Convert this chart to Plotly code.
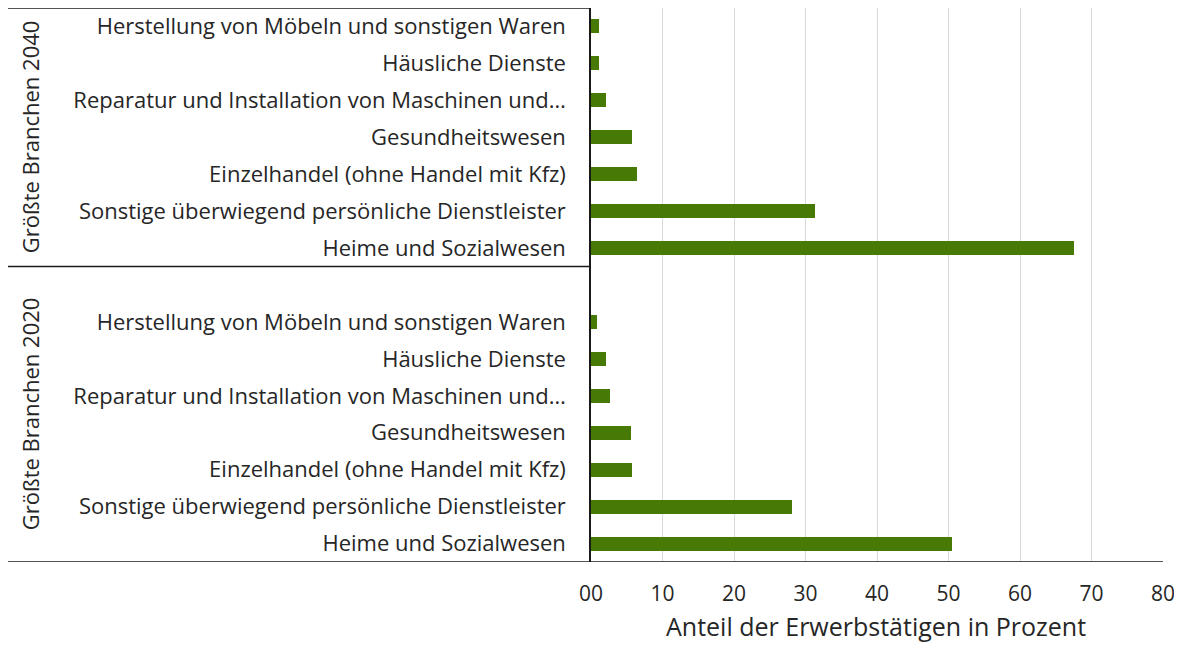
import plotly.graph_objects as go

branches = [
    "Herstellung von Möbeln und sonstigen Waren",
    "Häusliche Dienste",
    "Reparatur und Installation von Maschinen und…",
    "Gesundheitswesen",
    "Einzelhandel (ohne Handel mit Kfz)",
    "Sonstige überwiegend persönliche Dienstleister",
    "Heime und Sozialwesen",
]
values_2040 = [1.1, 1.1, 2.1, 5.8, 6.4, 31.3, 67.5]
values_2020 = [0.8, 2.1, 2.6, 5.6, 5.8, 28.1, 50.5]
group_labels = ["Größte Branchen 2040", "Größte Branchen 2020"]
x_ticks = [0, 10, 20, 30, 40, 50, 60, 70, 80]
x_ticktext = ["00", "10", "20", "30", "40", "50", "60", "70", "80"]
x_title = "Anteil der Erwerbstätigen in Prozent"

n = len(branches)
pos_2040 = list(range(n))
pos_2020 = [n + 1 + i for i in range(n)]
positions = pos_2040 + pos_2020
values = values_2040 + values_2020
labels = branches + branches

GREEN = "#467A04"
TEXT = "#262626"
FONT = "Open Sans"

fig = go.Figure(go.Bar(
    x=values, y=positions, orientation="h",
    marker=dict(color=GREEN, line=dict(width=0)),
    width=0.38, hoverinfo="x+text", text=labels, textposition="none",
))

# page body has an 8px margin, so figure coordinates = screen - 8
W, H = 1172, 634
L, T = 583, 0
R = W - 1155
B = H - 554
pw = W - L - R
ph = H - T - B
x_left_paper = (0 - L) / pw

fig.update_layout(
    width=W, height=H,
    margin=dict(l=L, r=R, t=T, b=B),
    paper_bgcolor="white", plot_bgcolor="white",
    showlegend=False,
    font=dict(family=FONT, color=TEXT, size=22),
    xaxis=dict(
        range=[0, 80], tickvals=x_ticks, ticktext=x_ticktext,
        showgrid=True, gridcolor="#d9d9d9", gridwidth=1,
        zeroline=False, showline=False, ticks="",
        ticklabelstandoff=17,
        tickfont=dict(size=21, family=FONT, color=TEXT),
        automargin=False,
    ),
    yaxis=dict(
        range=[2 * n + 0.5, -0.5], tickvals=positions, ticktext=labels,
        showgrid=False, zeroline=False, showline=True, linecolor="#1a1a1a", linewidth=1.5,
        ticks="", ticklabelstandoff=19,
        tickfont=dict(size=22, family=FONT, color=TEXT),
        automargin=False,
    ),
    bargap=0,
)

# x-axis title placed as annotation below the tick labels
fig.add_annotation(
    text=x_title, xref="paper", yref="paper", x=0.498, y=(554 - 618) / ph,
    showarrow=False, xanchor="center", yanchor="middle",
    font=dict(size=25, family=FONT, color=TEXT),
)

line_style = dict(color="#1a1a1a", width=1.5)
# top border
fig.add_shape(type="line", xref="paper", yref="y", x0=x_left_paper, x1=0, y0=-0.5, y1=-0.5, line=line_style)
# group separator
fig.add_shape(type="line", xref="paper", yref="y", x0=x_left_paper, x1=0, y0=n - 0.5, y1=n - 0.5, line=line_style)
# bottom border
fig.add_shape(type="line", xref="paper", yref="y", x0=x_left_paper, x1=1, y0=2 * n + 0.5, y1=2 * n + 0.5, line=line_style)

group_x = (22 - L) / pw
for lab, ymid in zip(group_labels, [(n - 1) / 2, (n + 2 * n) / 2]):
    fig.add_annotation(
        text=lab, xref="paper", yref="y", x=group_x, y=ymid,
        textangle=-90, showarrow=False, xanchor="center", yanchor="middle",
        font=dict(size=22, family=FONT, color=TEXT),
    )

fig.write_html("out.html")
